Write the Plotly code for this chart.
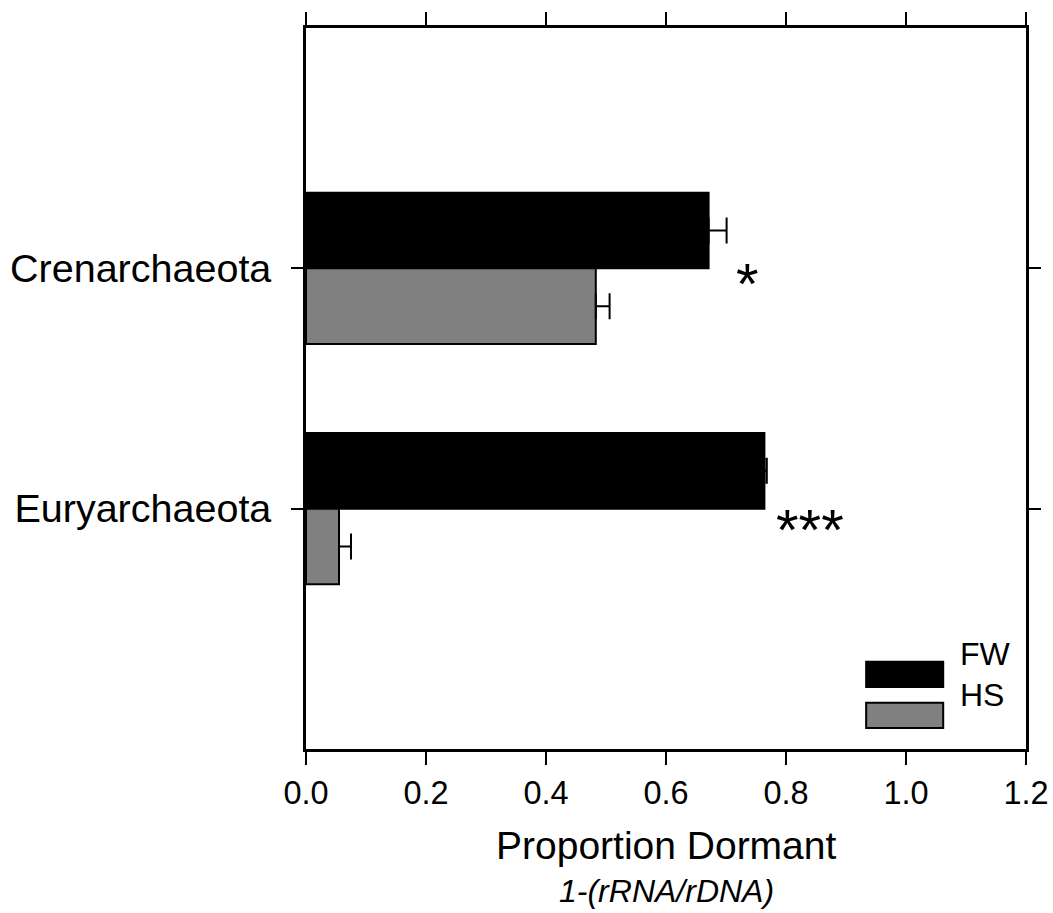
import plotly.graph_objects as go

categories = ["Crenarchaeota", "Euryarchaeota"]
fw_values = [0.671, 0.764]
fw_errors = [0.030, 0.004]
hs_values = [0.483, 0.055]
hs_errors = [0.023, 0.020]
sig_labels = ["*", "***"]
sig_x = [0.736, 0.840]
sig_y = [0.062, 1.087]
x_ticks = [0.0, 0.2, 0.4, 0.6, 0.8, 1.0, 1.2]

font = "Liberation Sans, Arial, sans-serif"
ypos = list(range(len(categories)))
zeros = [0] * len(categories)

fig = go.Figure()
fig.add_trace(go.Bar(
    y=ypos, x=fw_values, orientation="h", name="FW",
    marker=dict(color="black", line=dict(color="black", width=2)),
    error_x=dict(type="data", array=fw_errors, arrayminus=zeros, visible=True,
                 color="black", thickness=2, width=13),
    showlegend=False,
))
fig.add_trace(go.Bar(
    y=ypos, x=hs_values, orientation="h", name="HS",
    marker=dict(color="#808080", line=dict(color="black", width=2)),
    error_x=dict(type="data", array=hs_errors, arrayminus=zeros, visible=True,
                 color="black", thickness=2, width=13),
    showlegend=False,
))

for lab, xv, yv in zip(sig_labels, sig_x, sig_y):
    fig.add_annotation(x=xv, y=yv, text=lab, showarrow=False,
                       font=dict(family=font, size=58, color="black"),
                       xref="x", yref="y")

# Legend drawn as boxes in paper coordinates
legend_items = [("FW", "black"), ("HS", "#808080")]
legend_y0 = [0.086, 0.029]
for (name, col), y0 in zip(legend_items, legend_y0):
    fig.add_shape(type="rect", xref="paper", yref="paper",
                  x0=0.778, x1=0.885, y0=y0, y1=y0 + 0.035,
                  fillcolor=col, line=dict(color="black", width=2))
    fig.add_annotation(xref="paper", yref="paper", x=0.905, y=y0 + 0.0175,
                       text=name, showarrow=False, xanchor="left",
                       font=dict(family=font, size=32, color="black"))

fig.add_annotation(xref="paper", yref="paper", x=0.5, y=-0.134, yanchor="middle",
                   text="Proportion Dormant", showarrow=False,
                   font=dict(family=font, size=39, color="black"))
fig.add_annotation(xref="paper", yref="paper", x=0.5, y=-0.197, yanchor="middle",
                   text="<i>1-(rRNA/rDNA)</i>", showarrow=False,
                   font=dict(family=font, size=32, color="black"))

fig.update_layout(
    width=1053, height=913,
    margin=dict(l=306, r=27, t=28, b=164),
    paper_bgcolor="white", plot_bgcolor="white",
    barmode="group", bargap=0.37, bargroupgap=0,
    font=dict(family=font, color="black"),
)
fig.update_xaxes(
    range=[0, 1.2], tickvals=x_ticks, tickformat=".1f", automargin=False,
    showline=True, linecolor="black", linewidth=2.5, mirror="ticks",
    ticks="outside", ticklen=13, tickwidth=2, tickcolor="black",
    showgrid=False, zeroline=False,
    tickfont=dict(family=font, size=32.5, color="black"),
)
fig.update_yaxes(
    range=[2, -1], tickvals=ypos, ticktext=categories, automargin=False,
    showline=True, linecolor="black", linewidth=2.5, mirror="ticks",
    ticks="outside", ticklen=12, tickwidth=2, tickcolor="black",
    showgrid=False, zeroline=False,
    tickfont=dict(family=font, size=39.5, color="black"),
    ticklabelstandoff=12,
)

fig.write_html("out.html",
               config={"displayModeBar": False},
               post_script="document.body.style.margin='0';document.body.style.overflow='hidden';")
